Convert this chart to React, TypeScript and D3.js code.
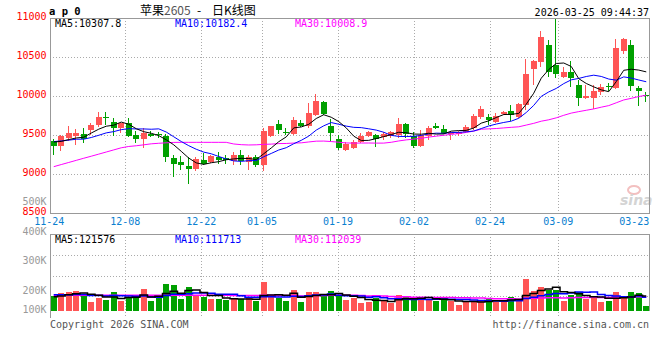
import React from "react";
import * as d3 from "d3";

// ---- data ----
const tickLabels = ["11-24", "12-08", "12-22", "01-05", "01-19", "02-02", "02-24", "03-09", "03-23"];
const tickIndex = [0, 10, 20, 28, 38, 48, 58, 67, 77];

const opens = [9423, 9363, 9458, 9487, 9513, 9568, 9632, 9725, 9667, 9590, 9658, 9500, 9449, 9513, 9510, 9487, 9205, 9154, 9103, 9064, 9179, 9154, 9222, 9200, 9171, 9240, 9158, 9222, 9115, 9487, 9641, 9542, 9509, 9660, 9615, 9756, 9920, 9615, 9449, 9308, 9329, 9415, 9487, 9500, 9478, 9487, 9500, 9641, 9491, 9363, 9487, 9615, 9577, 9509, 9510, 9535, 9594, 9727, 9727, 9671, 9769, 9808, 9735, 9885, 10346, 10440, 10654, 10397, 10240, 10312, 10141, 9970, 9978, 10055, 10125, 10103, 10581, 10654, 10107, 10010];
const highs = [9449, 9500, 9615, 9573, 9586, 9650, 9799, 9799, 9722, 9655, 9714, 9555, 9586, 9545, 9535, 9513, 9240, 9236, 9215, 9222, 9265, 9250, 9286, 9244, 9282, 9308, 9240, 9244, 9586, 9620, 9692, 9596, 9735, 9692, 9906, 10026, 9930, 9700, 9500, 9406, 9436, 9521, 9551, 9509, 9542, 9555, 9714, 9650, 9542, 9564, 9620, 9650, 9628, 9555, 9550, 9628, 9765, 9876, 9765, 9778, 9808, 9885, 9906, 10470, 10460, 10833, 10718, 10996, 10368, 10449, 10205, 10141, 10141, 10150, 10170, 10731, 10748, 10718, 10128, 10047];
const lows = [9244, 9299, 9423, 9368, 9394, 9500, 9606, 9628, 9490, 9529, 9480, 9394, 9329, 9478, 9465, 9158, 8958, 9051, 8872, 9042, 9115, 9140, 9133, 9124, 9115, 9111, 9051, 9094, 9038, 9470, 9509, 9500, 9500, 9606, 9586, 9744, 9760, 9414, 9308, 9299, 9320, 9394, 9470, 9350, 9436, 9458, 9458, 9458, 9329, 9350, 9436, 9580, 9509, 9436, 9490, 9526, 9564, 9705, 9628, 9650, 9756, 9679, 9714, 9821, 10141, 10376, 10247, 10227, 10227, 10119, 9876, 9962, 9833, 10013, 10064, 10090, 10535, 10064, 9876, 9927];
const closes = [9363, 9487, 9529, 9529, 9449, 9632, 9735, 9718, 9594, 9650, 9491, 9449, 9529, 9491, 9500, 9222, 9128, 9111, 9060, 9192, 9124, 9235, 9180, 9183, 9244, 9163, 9222, 9115, 9555, 9615, 9564, 9530, 9692, 9615, 9786, 9936, 9770, 9530, 9337, 9381, 9406, 9491, 9542, 9449, 9509, 9535, 9641, 9513, 9363, 9500, 9594, 9590, 9522, 9542, 9535, 9606, 9744, 9833, 9692, 9744, 9799, 9756, 9894, 10282, 10449, 10760, 10312, 10282, 10312, 10227, 9978, 10004, 10064, 10119, 10115, 10619, 10731, 10132, 10064, 10000];
const volumes = [125000, 150000, 162000, 167000, 142000, 75000, 112000, 92000, 158000, 83000, 117000, 122000, 183000, 83000, 114000, 225000, 217000, 100000, 200000, 133000, 117000, 100000, 100000, 92000, 104000, 103000, 106000, 86000, 242000, 133000, 106000, 85000, 175000, 75000, 158000, 158000, 121000, 167000, 130000, 92000, 106000, 69000, 78000, 106000, 83000, 64000, 133000, 125000, 106000, 106000, 92000, 83000, 106000, 83000, 50000, 78000, 83000, 83000, 100000, 78000, 78000, 119000, 100000, 267000, 167000, 203000, 175000, 175000, 83000, 133000, 156000, 100000, 119000, 72000, 83000, 156000, 119000, 156000, 147000, 42000];

// closes / volumes just before the visible window (estimated from the MA lines)
const priorCloses = [9400, 9430, 9410, 9440, 9420, 9450, 9410, 9430, 9400];
const priorVolumes = [150000, 160000, 145000, 155000, 155000, 115000, 120000, 118000, 117000];
// MA30 values for days whose 30-day window starts before the window
const ma30Lead = [9094, 9121, 9148, 9175, 9202, 9228, 9255, 9282, 9309, 9336, 9353, 9362, 9374, 9387, 9394, 9400, 9405, 9406, 9406, 9406, 9406, 9406, 9406, 9406, 9385, 9376, 9372, 9374, 9380];
const volMa30Lead = [132000, 132000, 132000, 132000, 132000, 132000, 132000, 132000, 132000, 132000, 132000, 132000, 132000, 132000, 132000, 132000, 132000, 132000, 132000, 132000, 131000, 131000, 131000, 131000, 130000, 130000, 130000, 130000, 131000];

const priceTicks = [11000, 10500, 10000, 9500, 9000, 8500];
const priceGrid = [10500, 10000, 9500, 9000];
const volLabelValues = [500000, 400000, 300000, 200000, 100000];
const volLabelTexts = ["500K", "400K", "300K", "200K", "100K"];
const priceLegend = ["MA5:10307.8", "MA10:10182.4", "MA30:10008.9"];
const volLegend = ["MA5:121576", "MA10:111713", "MA30:112039"];
const maColors = ["#000000", "#0000ff", "#ff00ff"];

const RED = "#ff5555";
const GREEN = "#00a000";
const MONO = "'DejaVu Sans Mono', monospace";

function movingAverage(values: number[], prior: number[], n: number): number[] {
  const all = prior.concat(values);
  const off = prior.length;
  return values.map((_, i) => {
    const end = off + i;
    const start = Math.max(0, end - n + 1);
    return d3.mean(all.slice(start, end + 1)) as number;
  });
}
function ma30(values: number[], lead: number[]): number[] {
  return values.map((_, i) =>
    i < lead.length ? lead[i] : (d3.mean(values.slice(i - 29, i + 1)) as number)
  );
}

export default function App() {
  const n = closes.length;
  const left = 50, right = 650, top = 18, bottom = 213;
  const vTop = 234, vBottom = 316, vBase = 311;

  const x = d3.scaleBand<number>().domain(d3.range(n)).range([left, right]).paddingInner(0.2).paddingOuter(0.1);
  const bw = 6;
  const cx = (i: number) => (x(i) as number) + x.bandwidth() / 2;
  const y = d3.scaleLinear().domain([8500, 11000]).range([bottom, top]);
  const yv = d3.scaleLinear().domain([0, 100000]).range([vBase, vBase - 12]);
  const dateX = d3.scaleLinear().domain([10, 67]).range([125.3, 558.3]);
  const vGrid = d3.scaleLinear().domain([0, 4]).range([vBottom, vTop + 1]);
  const volLabelY = d3.scaleLinear().domain([200000, 500000]).range([294, 205]);

  const pMA = [movingAverage(closes, priorCloses, 5), movingAverage(closes, priorCloses, 10), ma30(closes, ma30Lead)];
  const vMA = [movingAverage(volumes, priorVolumes, 5), movingAverage(volumes, priorVolumes, 10), ma30(volumes, volMa30Lead)];

  const pLine = d3.line<number>().x((_, i) => cx(i)).y((d) => y(d));
  const vLine = d3.line<number>().x((_, i) => cx(i)).y((d) => yv(d)).curve(d3.curveStep);

  const px = (v: number) => Math.round(v) + 0.5;
  const dotted = { stroke: "#aaaaaa", strokeWidth: 1, strokeDasharray: "1,2" };
  const gridIdx = tickIndex.filter((t) => t > 0 && t < 70);

  return (
    <svg width={660} height={360} style={{ position: "absolute", left: 0, top: 0, background: "#fff" }}>
      <rect x={0} y={0} width={660} height={360} fill="#fff" />
      {/* header */}
      <text x={49} y={15} fontFamily={MONO} fontWeight="bold" fontSize={10.5} fill="#000">a p 0</text>
      <text x={140} y={15} fontFamily="'Noto Sans CJK SC'" fontSize={12} fill="#000">苹果<tspan fill="#555">2605</tspan></text>
      <text x={197} y={15} fontFamily="'Noto Sans CJK SC'" fontSize={12} fill="#000">-</text>
      <text x={212} y={15} fontFamily="'Noto Sans CJK SC'" fontSize={12} fill="#000">日K线图</text>
      <text x={649} y={15.5} textAnchor="end" fontFamily={MONO} fontSize={10} fill="#000">2026-03-25 09:44:37</text>

      {/* price grid */}
      {priceGrid.map((p) => (
        <line key={p} x1={left} x2={right} y1={px(y(p))} y2={px(y(p))} {...dotted} />
      ))}
      {gridIdx.map((t) => (
        <line key={"g" + t} x1={px(dateX(t))} x2={px(dateX(t))} y1={top} y2={bottom} {...dotted} />
      ))}
      {/* watermark */}
      <ellipse cx={634} cy={190} rx={6} ry={4} fill="none" stroke="#f3c0c0" strokeWidth={2} />
      <text x={620} y={205} fontFamily="'DejaVu Sans'" fontStyle="italic" fontWeight="bold" fontSize={14} fill="#d4d4d4">sina</text>

      {/* price axis labels */}
      {priceTicks.map((p) => (
        <text key={p} x={46.5} y={y(p) + 2} textAnchor="end" fontFamily={MONO} fontSize={10} fill="#ff0000">{p}</text>
      ))}
      {/* volume axis labels */}
      {volLabelValues.map((v, k) => (
        <text key={v} x={46.5} y={Math.min(volLabelY(v), 313)} textAnchor="end" fontFamily={MONO} fontSize={10} fill="#999999">{volLabelTexts[k]}</text>
      ))}

      {/* candles */}
      {closes.map((c, i) => {
        const o = opens[i];
        const up = c > o;
        const col = up ? RED : GREEN;
        const x0 = Math.round(x(i) as number);
        const yt = Math.round(y(Math.max(o, c)));
        const yb = Math.round(y(Math.min(o, c)));
        return (
          <g key={i} shapeRendering="crispEdges">
            <line x1={x0 + 2.5} x2={x0 + 2.5} y1={Math.round(y(highs[i]))} y2={Math.round(y(lows[i]))} stroke={col} strokeWidth={1} />
            <rect x={x0} y={yt} width={bw} height={Math.max(1, yb - yt)} fill={col} />
          </g>
        );
      })}
      {/* price MAs */}
      {[2, 1, 0].map((k) => (
        <path key={k} d={pLine(pMA[k]) as string} fill="none" stroke={maColors[k]} strokeWidth={1} />
      ))}

      {/* price frame */}
      <g shapeRendering="crispEdges" stroke="#999999" fill="none">
        <line x1={left} x2={right} y1={top} y2={top} />
        <line x1={left} x2={right} y1={bottom} y2={bottom} />
        <line x1={left} x2={left} y1={top} y2={bottom} />
        <line x1={right - 0.5} x2={right - 0.5} y1={top} y2={bottom} />
      </g>
      {priceLegend.map((t, k) => (
        <text key={t} x={55 + 120 * k} y={27} fontFamily={MONO} fontSize={10} fill={maColors[k]}>{t}</text>
      ))}

      {/* date labels */}
      {tickIndex.map((t, k) => (
        <text key={t} x={dateX(t)} y={225} textAnchor="middle" fontFamily={MONO} fontSize={10} fill="#0a80d0">{tickLabels[k]}</text>
      ))}

      {/* volume panel */}
      {[1, 2, 3].map((k) => (
        <line key={k} x1={left} x2={right} y1={px(vGrid(k))} y2={px(vGrid(k))} {...dotted} />
      ))}
      {gridIdx.map((t) => (
        <line key={"vg" + t} x1={px(dateX(t))} x2={px(dateX(t))} y1={vTop} y2={vBottom} {...dotted} />
      ))}
      {volumes.map((v, i) => {
        const up = closes[i] > opens[i];
        const yt = Math.round(yv(v));
        return (
          <rect key={i} x={Math.round(x(i) as number)} y={yt} width={bw} height={vBase - yt} fill={up ? RED : GREEN} shapeRendering="crispEdges" />
        );
      })}
      {[2, 1, 0].map((k) => (
        <path key={k} d={vLine(vMA[k]) as string} fill="none" stroke={maColors[k]} strokeWidth={1.5} />
      ))}
      <g shapeRendering="crispEdges" stroke="#999999" fill="none">
        <line x1={left} x2={right} y1={vTop} y2={vTop} />
        <line x1={left} x2={left} y1={vTop} y2={vBottom + 2} />
        <line x1={right - 0.5} x2={right - 0.5} y1={vTop} y2={vBase} />
      </g>
      {volLegend.map((t, k) => (
        <text key={t} x={55 + 120 * k} y={243} fontFamily={MONO} fontSize={10} fill={maColors[k]}>{t}</text>
      ))}

      {/* footer */}
      <text x={50} y={328} fontFamily={MONO} fontSize={10} fill="#555">Copyright 2026 SINA.COM</text>
      <text x={649} y={328} textAnchor="end" fontFamily={MONO} fontSize={10} fill="#555">http://finance.sina.com.cn</text>
    </svg>
  );
}
